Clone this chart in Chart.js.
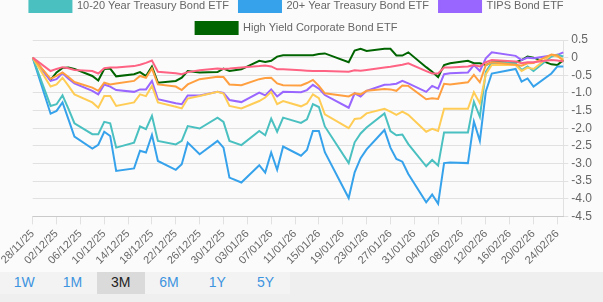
<!DOCTYPE html>
<html>
<head>
<meta charset="utf-8">
<title>Bond ETF performance</title>
<script src="https://cdn.jsdelivr.net/npm/chart.js@4.4.1/dist/chart.umd.min.js"></script>
<style>
  html, body { margin: 0; padding: 0; background: #fbfbfb; font-family: Arial, "Liberation Sans", sans-serif; }
  #frame { position: relative; width: 603px; height: 272px; overflow: hidden; }
  #holder { position: absolute; left: 0; top: -32px; width: 603px; height: 302px; }
  #ranges { position: absolute; left: 0; top: 272px; width: 603px; height: 30px; background: #efefef; }
  #ranges .group { display: flex; width: 290px; height: 22px; background: #f3f3f3; }
  #ranges span { width: 48.3px; height: 22px; line-height: 21px; text-align: center; font-size: 14px; color: #3d94e0; }
  #ranges span.on { background: #dadada; color: #222; }
</style>
</head>
<body>
<div id="frame">
  <div id="holder"><canvas id="line-chart"></canvas></div>
</div>
<div id="ranges">
  <div class="group">
    <span>1W</span><span>1M</span><span class="on">3M</span><span>6M</span><span>1Y</span><span>5Y</span>
  </div>
</div>
<script>
"use strict";

// every calendar day on the axis
const allDates = [
  "28/11/25", "29/11/25", "30/11/25",
  "01/12/25", "02/12/25", "03/12/25", "04/12/25", "05/12/25", "06/12/25", "07/12/25", "08/12/25",
  "09/12/25", "10/12/25", "11/12/25", "12/12/25", "13/12/25", "14/12/25", "15/12/25", "16/12/25",
  "17/12/25", "18/12/25", "19/12/25", "20/12/25", "21/12/25", "22/12/25", "23/12/25", "24/12/25",
  "25/12/25", "26/12/25", "27/12/25", "28/12/25", "29/12/25", "30/12/25", "31/12/25",
  "01/01/26", "02/01/26", "03/01/26", "04/01/26", "05/01/26", "06/01/26", "07/01/26", "08/01/26",
  "09/01/26", "10/01/26", "11/01/26", "12/01/26", "13/01/26", "14/01/26", "15/01/26", "16/01/26",
  "17/01/26", "18/01/26", "19/01/26", "20/01/26", "21/01/26", "22/01/26", "23/01/26", "24/01/26",
  "25/01/26", "26/01/26", "27/01/26", "28/01/26", "29/01/26", "30/01/26", "31/01/26",
  "01/02/26", "02/02/26", "03/02/26", "04/02/26", "05/02/26", "06/02/26", "07/02/26", "08/02/26",
  "09/02/26", "10/02/26", "11/02/26", "12/02/26", "13/02/26", "14/02/26", "15/02/26", "16/02/26",
  "17/02/26", "18/02/26", "19/02/26", "20/02/26", "21/02/26", "22/02/26", "23/02/26", "24/02/26",
  "25/02/26",
];

// days with a price (weekends / holidays are just joined by the line)
const tradeDates = [
  "28/11/25",
  "01/12/25", "02/12/25", "03/12/25", "04/12/25", "05/12/25",
  "08/12/25", "09/12/25", "10/12/25", "11/12/25", "12/12/25",
  "15/12/25", "16/12/25", "17/12/25", "18/12/25", "19/12/25",
  "22/12/25", "23/12/25", "24/12/25", "26/12/25",
  "29/12/25", "30/12/25", "31/12/25", "02/01/26",
  "05/01/26", "06/01/26", "07/01/26", "08/01/26", "09/01/26",
  "12/01/26", "13/01/26", "14/01/26", "15/01/26", "16/01/26",
  "20/01/26", "21/01/26", "22/01/26", "23/01/26",
  "26/01/26", "27/01/26", "28/01/26", "29/01/26", "30/01/26",
  "02/02/26", "03/02/26", "04/02/26", "05/02/26", "06/02/26",
  "09/02/26", "10/02/26", "11/02/26", "12/02/26", "13/02/26",
  "17/02/26", "18/02/26", "19/02/26", "20/02/26",
  "23/02/26", "24/02/26", "25/02/26",
];

// % change since 28/11/25
const shortTreasury = [0, -0.38, -0.32, -0.27, -0.3, -0.35, -0.38, -0.45, -0.3, -0.28, -0.28, -0.24, -0.2, -0.15, -0.08, -0.4,
  -0.44, -0.47, -0.41, -0.36, -0.31, -0.32, -0.31, -0.28, -0.24, -0.22, -0.25, -0.33, -0.33, -0.36, -0.37, -0.38, -0.38, -0.38,
  -0.4, -0.36, -0.37, -0.35, -0.28, -0.26, -0.23, -0.2, -0.16, -0.38, -0.45, -0.45, -0.28, -0.28, -0.25, -0.21, -0.25, -0.13, -0.07,
  -0.11, -0.16, -0.13, -0.13, -0.07, -0.08, -0.11];
const aggregate = [0, -0.6, -0.52, -0.42, -0.55, -0.69, -0.85, -0.94, -0.71, -0.76, -0.73, -0.66, -0.52, -0.57, -0.31, -0.76,
  -0.82, -0.92, -0.76, -0.61, -0.54, -0.55, -0.76, -0.78, -0.61, -0.58, -0.57, -0.73, -0.78, -0.79, -0.72, -0.63, -0.8, -1.01,
  -1.1, -1.01, -1.04, -0.94, -0.89, -0.9, -0.94, -0.79, -0.8, -1.18, -1.15, -1.17, -0.74, -0.76, -0.7, -0.49, -0.7, -0.21, -0.13,
  -0.2, -0.23, -0.16, -0.15, 0.09, 0.06, -0.09];
const midTreasury = [0, -0.82, -0.76, -0.57, -0.8, -1.04, -1.27, -1.42, -1.09, -1.09, -1.37, -1.27, -1.04, -1.09, -0.8, -1.27,
  -1.39, -1.44, -1.16, -1.09, -0.97, -1.02, -1.37, -1.44, -1.23, -1.13, -0.97, -1.32, -1.23, -1.38, -1.3, -1.04, -1.15, -1.61,
  -2.0, -1.74, -1.72, -1.58, -1.45, -1.53, -1.62, -1.53, -1.62, -2.1, -2.02, -2.08, -1.45, -1.45, -1.45, -0.98, -1.29, -0.47, -0.21,
  -0.21, -0.38, -0.28, -0.32, 0.08, 0.03, -0.04];
const treasury1020 = [0, -1.37, -1.32, -1.07, -1.45, -1.86, -2.17, -2.17, -1.82, -1.86, -2.55, -2.41, -1.95, -2.03, -1.65, -2.36,
  -2.46, -2.36, -1.94, -2.01, -1.7, -1.82, -2.36, -2.48, -2.08, -2.2, -1.73, -2.1, -1.7, -1.85, -1.75, -1.32, -1.4, -1.95,
  -2.99, -2.4, -2.15, -1.98, -1.58, -2.08, -2.2, -2.18, -2.45, -3.08, -2.9, -3.06, -2.12, -2.12, -2.12, -1.25, -1.68, -0.4, -0.14,
  -0.16, -0.35, -0.25, -0.38, 0.03, 0.08, 0.03];
const treasury20 = [0, -1.59, -1.51, -1.27, -1.75, -2.24, -2.58, -2.47, -2.1, -2.22, -3.21, -3.14, -2.64, -2.69, -2.19, -2.93,
  -3.18, -3.02, -2.41, -2.74, -2.36, -2.55, -3.4, -3.54, -3.05, -3.26, -2.69, -3.18, -2.52, -2.78, -2.62, -2.08, -2.08, -2.68,
  -3.98, -3.25, -2.85, -2.6, -2.05, -2.55, -2.87, -2.95, -3.3, -4.1, -3.88, -4.14, -2.99, -2.97, -2.99, -1.81, -2.36, -0.96, -0.45,
  -0.32, -0.68, -0.59, -0.82, -0.45, -0.25, -0.25];
const tips = [0, -0.66, -0.61, -0.44, -0.6, -0.73, -0.94, -1.04, -0.76, -0.82, -0.92, -0.97, -0.9, -0.9, -0.66, -1.18,
  -1.29, -1.32, -1.07, -1.07, -0.97, -1.0, -1.2, -1.26, -0.99, -1.07, -0.9, -1.1, -0.97, -0.98, -0.92, -0.77, -0.88, -1.06,
  -1.42, -1.01, -1.1, -0.94, -0.77, -0.76, -0.74, -0.66, -0.73, -0.97, -0.8, -0.88, -0.47, -0.44, -0.42, -0.21, -0.38, -0.02, 0.15,
  0.05, -0.07, 0.0, -0.02, 0.06, 0.08, 0.15];
const highYield = [0, -0.63, -0.42, -0.29, -0.28, -0.32, -0.52, -0.65, -0.32, -0.31, -0.53, -0.47, -0.41, -0.52, -0.25, -0.71,
  -0.66, -0.57, -0.38, -0.42, -0.41, -0.31, -0.38, -0.33, -0.09, -0.12, -0.09, 0.03, 0.07, 0.07, 0.07, 0.07, 0.1, 0.12,
  -0.13, 0.2, 0.25, 0.19, 0.25, 0.25, 0.06, 0.06, 0.15, -0.27, -0.4, -0.55, -0.21, -0.16, -0.09, -0.16, -0.16, -0.21, -0.13,
  -0.13, -0.07, 0.03, 0.0, -0.19, -0.21, -0.07];

const seriesNames = [
  "1-3 Year Treasury Bond ETF",
  "Aggregate Bond ETF",
  "7-10 Year Treasury Bond ETF",
  "10-20 Year Treasury Bond ETF",
  "20+ Year Treasury Bond ETF",
  "TIPS Bond ETF",
  "High Yield Corporate Bond ETF",
];
const seriesValues = [shortTreasury, aggregate, midTreasury, treasury1020, treasury20, tips, highYield];
const seriesColors = [
  "rgb(255, 99, 132)",
  "rgb(255, 159, 64)",
  "rgb(255, 205, 86)",
  "rgb(75, 192, 192)",
  "rgb(54, 162, 235)",
  "rgb(153, 102, 255)",
  "#006400",
];

const gridColor = "rgba(0, 0, 0, 0.1)";

// the legend sits a bit closer to the plot than chart.js puts it
const legendTrim = {
  id: "legendTrim",
  beforeInit(chart) {
    const fit = chart.legend.fit;
    chart.legend.fit = function () {
      fit.bind(chart.legend)();
      this.height -= 4;
    };
  },
};

new Chart(document.getElementById("line-chart"), {
  type: "line",
  data: {
    labels: allDates,
    datasets: seriesNames.map((name, s) => ({
      label: name,
      data: tradeDates.map((d, k) => ({ x: d, y: seriesValues[s][k] })),
      borderColor: seriesColors[s],
      backgroundColor: seriesColors[s],
      borderWidth: 2,
      pointRadius: 0,
      tension: 0,
    })),
  },
  options: {
    responsive: true,
    maintainAspectRatio: false,
    animation: false,
    layout: { padding: { left: -2, right: 8 } },
    plugins: {
      legend: {
        position: "top",
        labels: { boxWidth: 42, boxHeight: 12, padding: 10, color: "#666", font: { size: 11 } },
      },
      tooltip: { enabled: false },
    },
    scales: {
      x: {
        grid: {
          drawOnChartArea: false,
          tickLength: 8,
          tickColor: (ctx) => (ctx.index % 4 === 0 ? gridColor : "transparent"),
        },
        border: { color: gridColor },
        ticks: {
          autoSkip: false,
          minRotation: 45,
          maxRotation: 45,
          color: "#666",
          font: { size: 11 },
          callback(value, index) {
            return index % 4 === 0 ? this.getLabelForValue(value) : "";
          },
        },
      },
      y: {
        position: "right",
        min: -4.5,
        max: 0.5,
        grid: { color: gridColor, tickLength: 5 },
        border: { color: gridColor },
        ticks: { stepSize: 0.5, padding: 3, color: "#666", font: { size: 12 } },
      },
    },
  },
  plugins: [legendTrim],
});
</script>
</body>
</html>
